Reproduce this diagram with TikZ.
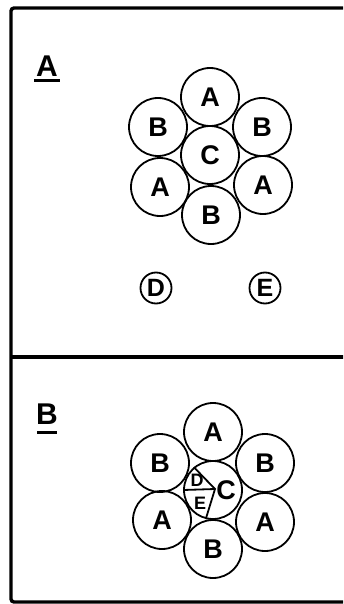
\documentclass[tikz,border=0pt]{standalone}
\usepackage{fontspec}
\setmainfont{Liberation Sans}
\begin{document}
\begin{tikzpicture}[x=1pt,y=-1pt,
  disc/.style={circle,draw,line width=1.8pt,minimum size=58pt,inner sep=0pt,font=\fontsize{27}{27}\selectfont\bfseries},
  smalldisc/.style={circle,draw,line width=1.8pt,minimum size=31pt,inner sep=0pt,font=\fontsize{25}{25}\selectfont\bfseries},
  tag/.style={inner sep=0pt,font=\fontsize{30}{30}\selectfont\bfseries},
  tiny/.style={inner sep=0pt,font=\fontsize{18}{18}\selectfont\bfseries},
  frame/.style={line width=3.4pt,rounded corners=3pt},
  seg/.style={line width=1.8pt}]
\useasboundingbox (0,0) rectangle (343,604);
\clip (0,0) rectangle (343,604);

% outer frame and divider
\draw[frame] (360,8) -- (11,8) -- (11,602) -- (360,602);
\draw[line width=3.4pt] (11,357) -- (360,357);

% panel labels
\node[tag] (labA) at (47,66) {A};
\draw[line width=3pt] (34,81) -- (60,81);
\node[tag] (labB) at (47,414) {B};
\draw[line width=3pt] (37,432) -- (57,432);

% panel A: separate rings
\node[disc] (aC)  at (210,155) {C};
\node[disc] (aA1) at (210,97)  {A};
\node[disc] (aB1) at (158,127) {B};
\node[disc] (aB2) at (262,127) {B};
\node[disc] (aA2) at (160,187) {A};
\node[disc] (aA3) at (263,185) {A};
\node[disc] (aB3) at (211,215) {B};
\node[smalldisc] (aD) at (156,288) {D};
\node[smalldisc] (aE) at (265,288) {E};

% panel B: D and E merged into the central ring
\node[disc] (bC)  at (213,490) {};
\node[disc] (bA1) at (213,432) {A};
\node[disc] (bB1) at (160,463) {B};
\node[disc] (bB2) at (265,463) {B};
\node[disc] (bA2) at (162,520) {A};
\node[disc] (bA3) at (265,522) {A};
\node[disc] (bB3) at (213,549) {B};
\node[disc,draw=none] (bClab) at (226,490) {C};
\coordinate (p) at (215,489);
\draw[seg] (bC.130) -- (p) -- (bC.256);
\draw[seg] (bC.180) -- (p);
\node[tiny] (bD) at (197,480) {D};
\node[tiny] (bE) at (200,503) {E};
\end{tikzpicture}
\end{document}
